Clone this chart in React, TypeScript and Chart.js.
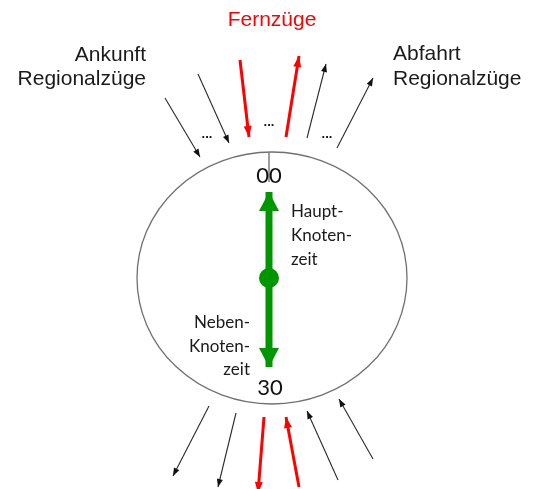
import { useEffect, useRef } from "react";
import { Chart, registerables } from "chart.js";

Chart.register(...registerables);

const WIDTH = 535;
const HEIGHT = 489;

// Arrows: [x1, y1, x2, y2], head at (x2, y2)
const regionalArrows: number[][] = [
  [165, 98, 200, 157],
  [198, 74, 229, 143],
  [307, 138, 326, 64],
  [337, 148, 373, 78],
  [209, 406, 173, 476],
  [236, 413, 218, 487],
  [338, 480, 307, 411],
  [373, 459, 339, 399],
];
const fernArrows: number[][] = [
  [240, 60, 249, 137],
  [286, 137, 299, 56],
  [264, 417, 258, 493],
  [299, 487, 286, 417],
];

// Dial: centre x, centre y, radius x, radius y
const dial = [272, 278, 135, 126];
const zeroTick = [269, 152, 269, 182];
const hubPoint = [269, 278];
const handTips: number[][] = [
  [269, 192],
  [269, 367],
];

// Text content
const titleText = "Fernzüge";
const titlePos = [272, 26];
const arrivalLines = ["Ankunft", "Regionalzüge"];
const arrivalX = 146;
const arrivalY = [61, 85];
const departureLines = ["Abfahrt", "Regionalzüge"];
const departureX = 393;
const departureY = [60, 85];
const mainNodeLines = ["Haupt-", "Knoten-", "zeit"];
const mainNodeX = 291;
const mainNodeY = [217, 241, 265];
const sideNodeLines = ["Neben-", "Knoten-", "zeit"];
const sideNodeX = 250;
const sideNodeY = [328, 352, 375];
const dialLabels = ["00", "30"];
const dialLabelX = [269, 270];
const dialLabelY = [183, 395];
const ellipsisText = "...";
const ellipsisX = [207, 269, 327];
const ellipsisY = [138, 126, 138];

const GREEN = "rgb(0,150,0)";
const RED = "#ff0000";
const DARK = "#2a2a2a";

const diagramPlugin = {
  id: "diagram",
  beforeDatasetsDraw(chart: any) {
    const { ctx, scales } = chart;
    const xs = scales.x;
    const ys = scales.y;
    const cx = xs.getPixelForValue(dial[0]);
    const cy = ys.getPixelForValue(dial[1]);
    const rx = Math.abs(xs.getPixelForValue(dial[0] + dial[2]) - cx);
    const ry = Math.abs(ys.getPixelForValue(dial[1] + dial[3]) - cy);
    ctx.save();
    ctx.beginPath();
    ctx.ellipse(cx, cy, rx, ry, 0, 0, Math.PI * 2);
    ctx.strokeStyle = "#707070";
    ctx.lineWidth = 1.3;
    ctx.stroke();
    ctx.restore();
  },
  afterDatasetsDraw(chart: any) {
    const { ctx, scales } = chart;
    const xs = scales.x;
    const ys = scales.y;
    ctx.save();
    // arrow heads
    chart.data.datasets.forEach((ds: any, i: number) => {
      if (!ds.arrowHead) return;
      const meta = chart.getDatasetMeta(i);
      const p0 = meta.data[0];
      const p1 = meta.data[1];
      if (!p0 || !p1) return;
      const dx = p1.x - p0.x;
      const dy = p1.y - p0.y;
      const len = Math.hypot(dx, dy) || 1;
      const ux = dx / len;
      const uy = dy / len;
      const L = ds.arrowHead.len;
      const W = ds.arrowHead.width / 2;
      const bx = p1.x - ux * L;
      const by = p1.y - uy * L;
      ctx.beginPath();
      ctx.moveTo(p1.x, p1.y);
      ctx.lineTo(bx - uy * W, by + ux * W);
      ctx.lineTo(bx + uy * W, by - ux * W);
      ctx.closePath();
      ctx.fillStyle = ds.arrowHead.color;
      ctx.fill();
    });

    const sans = "'Liberation Sans', Arial, sans-serif";
    const soft = "Lato, 'Open Sans', sans-serif";
    const px = (v: number) => xs.getPixelForValue(v);
    const py = (v: number) => ys.getPixelForValue(v);
    ctx.textBaseline = "alphabetic";

    // title
    ctx.font = `21px ${sans}`;
    ctx.fillStyle = RED;
    ctx.textAlign = "center";
    ctx.fillText(titleText, px(titlePos[0]), py(titlePos[1]));

    ctx.fillStyle = "#1a1a1a";
    ctx.textAlign = "right";
    arrivalLines.forEach((t, i) => ctx.fillText(t, px(arrivalX), py(arrivalY[i])));
    ctx.textAlign = "left";
    departureLines.forEach((t, i) => ctx.fillText(t, px(departureX), py(departureY[i])));

    ctx.font = `17px ${soft}`;
    ctx.fillStyle = "#1a1a1a";
    ctx.textAlign = "left";
    mainNodeLines.forEach((t, i) => ctx.fillText(t, px(mainNodeX), py(mainNodeY[i])));
    ctx.textAlign = "right";
    sideNodeLines.forEach((t, i) => ctx.fillText(t, px(sideNodeX), py(sideNodeY[i])));

    ctx.font = `22px ${soft}`;
    ctx.textAlign = "center";
    ctx.fillStyle = "#111";
    dialLabels.forEach((t, i) => ctx.fillText(t, px(dialLabelX[i]), py(dialLabelY[i])));

    ctx.font = `bold 13px ${sans}`;
    ctx.fillStyle = "#111";
    ellipsisX.forEach((x, i) => ctx.fillText(ellipsisText, px(x), py(ellipsisY[i])));
    ctx.restore();
  },
};

function segment(a: number[], color: string, width: number, head?: any) {
  return {
    data: [
      { x: a[0], y: a[1] },
      { x: a[2], y: a[3] },
    ],
    showLine: true,
    borderColor: color,
    borderWidth: width,
    pointRadius: 0,
    pointHoverRadius: 0,
    clip: false as any,
    arrowHead: head,
  };
}

export default function App() {
  const canvasRef = useRef<HTMLCanvasElement | null>(null);

  useEffect(() => {
    const canvas = canvasRef.current;
    if (!canvas) return;
    const datasets: any[] = [];
    datasets.push(segment(zeroTick, "#808080", 1.5));
    regionalArrows.forEach((a) =>
      datasets.push(segment(a, DARK, 1.1, { len: 8, width: 6, color: "#111" }))
    );
    fernArrows.forEach((a) =>
      datasets.push(segment(a, RED, 3, { len: 11, width: 8, color: RED }))
    );
    handTips.forEach((t) =>
      datasets.push(
        segment([hubPoint[0], hubPoint[1], t[0], t[1]], GREEN, 7, {
          len: 19,
          width: 20,
          color: GREEN,
        })
      )
    );
    datasets.push({
      data: [{ x: hubPoint[0], y: hubPoint[1] }],
      pointRadius: 10,
      pointHoverRadius: 10,
      backgroundColor: GREEN,
      borderColor: GREEN,
      borderWidth: 0,
      showLine: false,
      clip: false,
    });

    const chart = new Chart(canvas, {
      type: "scatter",
      data: { datasets },
      options: {
        animation: false,
        responsive: false,
        maintainAspectRatio: false,
        layout: { padding: 0, autoPadding: false },
        events: [],
        scales: {
          x: { type: "linear", min: 0, max: WIDTH, display: false },
          y: { type: "linear", min: 0, max: HEIGHT, reverse: true, display: false },
        },
        plugins: {
          legend: { display: false },
          tooltip: { enabled: false },
        },
      },
      plugins: [diagramPlugin],
    } as any);
    return () => chart.destroy();
  }, []);

  return (
    <div
      style={{
        position: "fixed",
        left: 0,
        top: 0,
        width: WIDTH,
        height: HEIGHT,
        background: "#fff",
      }}
    >
      <canvas
        ref={canvasRef}
        width={WIDTH}
        height={HEIGHT}
        style={{ display: "block", width: WIDTH, height: HEIGHT }}
      />
    </div>
  );
}
